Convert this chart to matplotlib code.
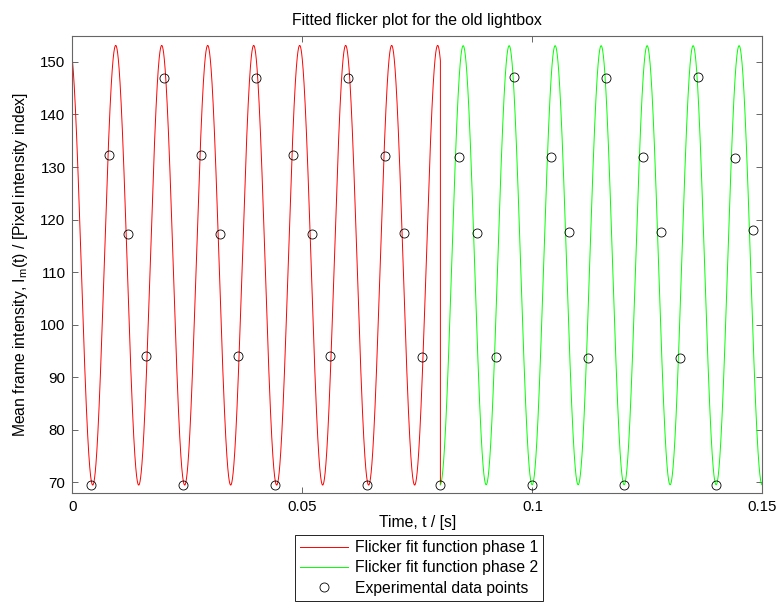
import numpy as np
import matplotlib
matplotlib.use('Agg')
import matplotlib.pyplot as plt

plt.rcParams['font.family'] = ['Liberation Sans', 'DejaVu Sans']
plt.rcParams['mathtext.fontset'] = 'custom'
plt.rcParams['mathtext.rm'] = 'Liberation Sans'
plt.rcParams['font.size'] = 10

# experimental frames (250 fps camera), mean intensity per frame
frame_rate = 250.0
frame_index = np.arange(1, 38)
intensity = [69.5, 132.3, 117.2, 94.0, 147.0,
             69.5, 132.2, 117.3, 94.0, 147.0,
             69.4, 132.2, 117.3, 94.0, 147.0,
             69.4, 132.1, 117.4, 93.9, 69.5,
             132.0, 117.5, 93.8, 147.1, 69.5,
             132.0, 117.6, 93.7, 147.0, 69.5,
             131.9, 117.6, 93.6, 147.1, 69.5,
             131.8, 118.0]

# fitted parameters: offset, amplitude, frequency [Hz], time of a minimum [s]
fit1 = (111.3, 41.85, 100.0, 0.0044)
fit2 = (111.3, 41.8, 100.0, 0.07995)
t_switch = 0.08
t_end = 0.15


def flicker(t, p):
    c, a, f, tmin = p
    return c - a * np.cos(2 * np.pi * f * (t - tmin))


t_data = frame_index / frame_rate

# phase 1 fit, joined to the start of phase 2
t1 = np.linspace(0, t_switch, 4000)
y1 = flicker(t1, fit1)
t1 = np.append(t1, t_switch)
y1 = np.append(y1, flicker(t_switch, fit2))

t2 = np.linspace(t_switch, t_end, 4000)
y2 = flicker(t2, fit2)

fig = plt.figure(figsize=(7.81, 6.04), dpi=100)
ax = fig.add_axes([0.0928, 0.1843, 0.8833, 0.7566])

ax.plot(t1, y1, color='#ff0000', lw=0.7, label='Flicker fit function phase 1')
ax.plot(t2, y2, color='#00ff00', lw=0.7, label='Flicker fit function phase 2')
ax.plot(t_data, intensity, 'o', mfc='none', mec='black', mew=0.6, ms=6.5,
        label='Experimental data points')

ax.set_xlim(0, t_end)
ax.set_ylim(68, 155)
ax.set_xticks([0, 0.05, 0.1, 0.15])
ax.set_xticklabels(['0', '0.05', '0.1', '0.15'])
ax.set_yticks(np.arange(70, 151, 10))
ax.tick_params(direction='in', length=4, width=0.6, top=True, right=True,
               colors='0.3', labelcolor='black', labelsize=10.8, pad=5)
for s in ax.spines.values():
    s.set_color('0.4')
    s.set_linewidth(0.8)

ax.set_title('Fitted flicker plot for the old lightbox', fontsize=11.4, pad=8)
ax.set_xlabel('Time, t / [s]', fontsize=11.3, labelpad=1)
ax.set_ylabel(r'Mean frame intensity, $\mathregular{I_m}$(t) / [Pixel intensity index]',
              fontsize=11.3, labelpad=7)

leg = fig.legend(loc='upper center', bbox_to_anchor=(0.5363, 0.1142),
                 borderaxespad=0, fancybox=False, framealpha=1,
                 edgecolor='black', fontsize=11.3,
                 handlelength=3.1, handletextpad=0.4, labelspacing=0.33,
                 borderpad=0.33)
leg.get_frame().set_linewidth(0.6)

plt.savefig('out.png', dpi=100)
